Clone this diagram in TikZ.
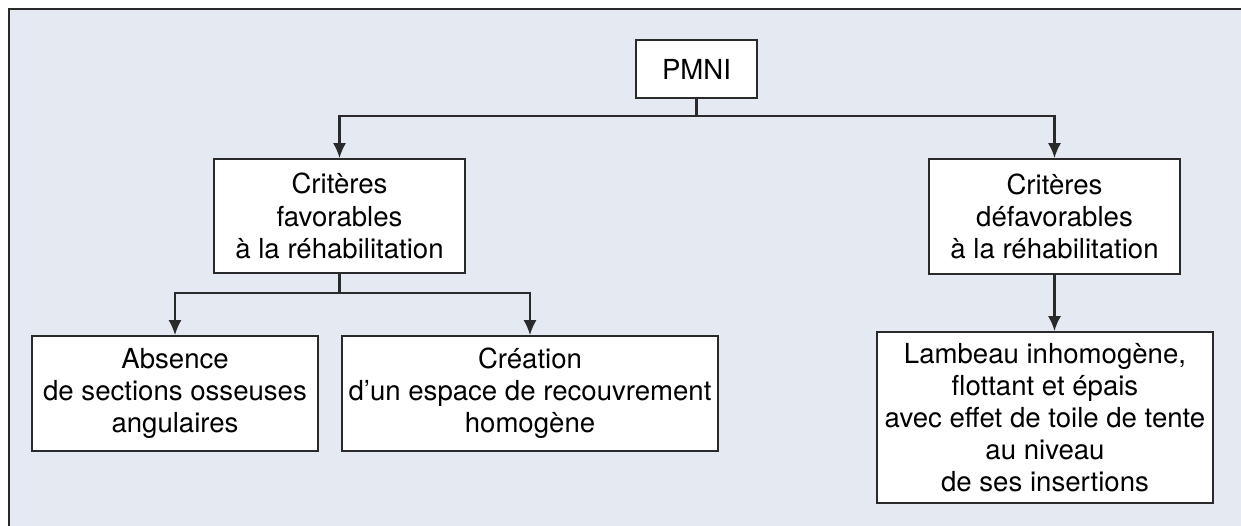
\documentclass[tikz,border=0pt]{standalone}
\usepackage{fontspec}
\setmainfont{TeX Gyre Heros}
\usetikzlibrary{arrows.meta,positioning,calc}
\definecolor{ink}{HTML}{2A2A2A}
\definecolor{panel}{HTML}{E5E9F2}
\tikzset{box/.style={draw=ink,fill=white,line width=0.9pt,align=center,inner sep=0pt,font=\fontsize{15.7}{18.3}\selectfont},link/.style={draw=ink,line width=1.3pt,-{Latex[length=3mm,width=2.6mm]}},every picture/.style={>=Latex}}

\begin{document}
\begin{tikzpicture}[x=0.2mm,y=-0.2mm]
\useasboundingbox (0,0) rectangle (1241,526);
\draw[ink,fill=panel,line width=1pt] (9,9) rectangle (1270,550);
\node[box,minimum width=24.2mm,minimum height=11.6mm] (pmni) at (696.5,69) {PMNI};
\node[box,minimum width=50.2mm,minimum height=22.8mm] (fav) at (339.5,216) {Critères\\favorables\\à la réhabilitation};
\node[box,minimum width=50.2mm,minimum height=23mm] (defav) at (1054.5,216.5) {Critères\\défavorables\\à la réhabilitation};
\node[box,minimum width=57.2mm,minimum height=23mm] (absence) at (175,393.5) {Absence\\de sections osseuses\\angulaires};
\node[box,minimum width=75.2mm,minimum height=23mm] (creation) at (530,393.5) {Création\\d’un espace de recouvrement\\homogène};
\node[box,minimum width=67.2mm,minimum height=34.2mm] (lambeau) at (1045,417.5) {Lambeau inhomogène,\\flottant et épais\\avec effet de toile de tente\\au niveau\\de ses insertions};
% branches
\draw[link] (pmni.south) -- ++(0,17) -| (fav.north);
\draw[link] (pmni.south) -- ++(0,17) -| (defav.north);
\draw[link] (fav.south) -- ++(0,19) -| (absence.north);
\draw[link] (fav.south) -- ++(0,19) -| (creation.north);
\draw[link] (defav.south) -- (defav.south |- lambeau.north);
\end{tikzpicture}
\end{document}
